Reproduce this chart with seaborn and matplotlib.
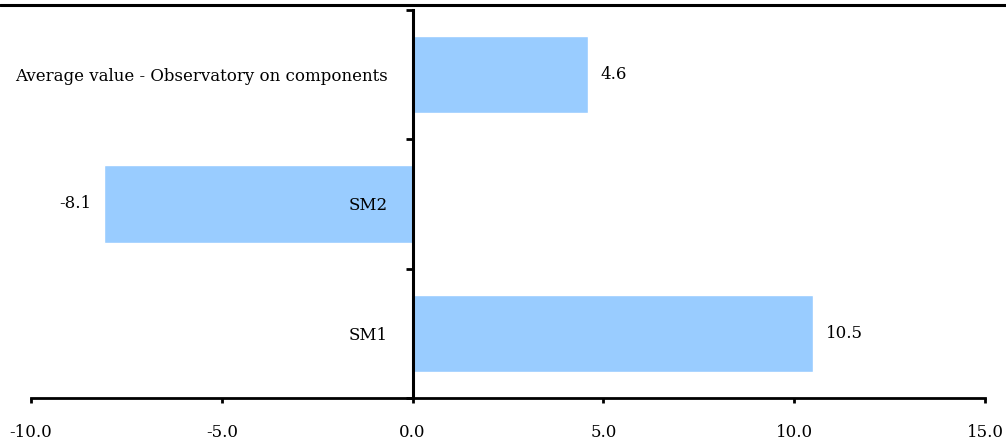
import matplotlib
matplotlib.use("Agg")
import matplotlib.pyplot as plt
from matplotlib.lines import Line2D
from matplotlib.ticker import FixedLocator, FormatStrFormatter
import seaborn as sns
import pandas as pd

categories = ["Average value - Observatory on components", "SM2", "SM1"]
values = [4.6, -8.1, 10.5]
x_ticks = [-10, -5, 0, 5, 10, 15]

sns.set_theme(style="white")
plt.rcParams["font.family"] = ["DejaVu Serif"]
plt.rcParams["font.size"] = 12

df = pd.DataFrame({"category": categories, "value": values})

fig = plt.figure(figsize=(10.06, 4.45), dpi=100)
ax = fig.add_axes([31 / 1006, 1 - 398 / 445, 954 / 1006, 388 / 445])

sns.barplot(data=df, x="value", y="category", orient="h", color="#99CCFF",
            saturation=1, width=0.6, ax=ax)

ax.set_xlim(-10, 15)
ax.set_ylim(2.5, -0.5)
ax.set_xlabel("")
ax.set_ylabel("")
# Category labels are drawn on top of the bars
ax.set_axisbelow(False)

# Axis lines: vertical axis sits at zero, horizontal axis at the bottom
for side in ("top", "right"):
    ax.spines[side].set_visible(False)
ax.spines["left"].set_position(("data", 0))
ax.spines["left"].set_linewidth(2.2)
ax.spines["left"].set_color("black")
ax.spines["bottom"].set_linewidth(2.0)
ax.spines["bottom"].set_color("black")

ax.xaxis.set_major_locator(FixedLocator(x_ticks))
ax.xaxis.set_major_formatter(FormatStrFormatter("%.1f"))
ax.tick_params(axis="x", direction="out", length=3.5, width=2, pad=15,
               colors="black", labelsize=12, bottom=True)

# Category labels sit just left of the zero line, without tick marks
ax.tick_params(axis="y", which="major", length=0, pad=18, labelsize=12,
               labelcolor="black")
ax.yaxis.set_minor_locator(FixedLocator([-0.5, 0.5, 1.5, 2.5]))
ax.tick_params(axis="y", which="minor", direction="out", length=5, width=2,
               color="black", left=True)

for container in ax.containers:
    ax.bar_label(container, fmt="%.1f", padding=9, fontsize=12, color="black")

# Rule across the top of the figure
fig.add_artist(Line2D([0, 1], [1 - 5 / 445, 1 - 5 / 445], transform=fig.transFigure,
                      color="black", linewidth=2.2))

fig.savefig("out.png", dpi=100)
